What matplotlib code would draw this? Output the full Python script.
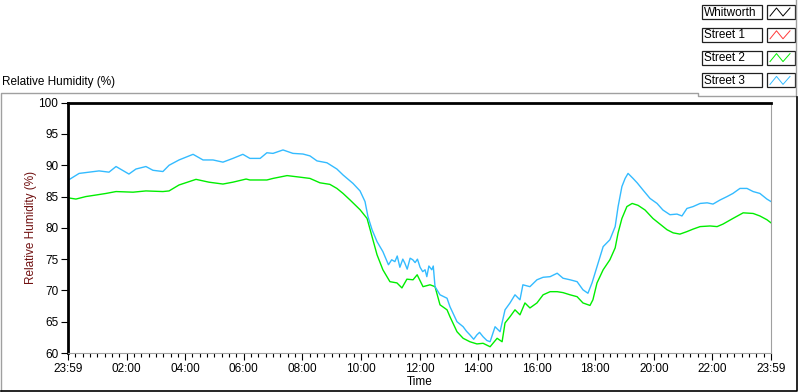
import matplotlib
matplotlib.use("Agg")
import matplotlib.pyplot as plt
from matplotlib.ticker import MultipleLocator, FixedLocator

plt.rcParams["font.family"] = ["Liberation Sans", "DejaVu Sans"]

# legend entries (Whitworth and Street 1 carry no data in the picture)
names = ["Whitworth", "Street 1", "Street 2", "Street 3"]
colors = ["#000000", "#ff3a3a", "#00ee00", "#33bbff"]

# hours since 23:59
t2 = [0.00, 0.27, 0.61, 0.96, 1.30, 1.64, 2.22, 2.66, 3.24, 3.45, 3.79, 4.37, 4.81,
      5.29, 5.63, 6.08, 6.21, 6.79, 7.00, 7.48, 7.92, 8.26, 8.60, 8.94, 9.18, 9.39,
      9.63, 9.97, 10.21, 10.38, 10.55, 10.75, 10.99, 11.23, 11.40, 11.57, 11.78,
      11.92, 12.12, 12.36, 12.53, 12.70, 12.94, 13.04, 13.28, 13.49, 13.72, 13.96,
      14.17, 14.41, 14.65, 14.82, 14.92, 15.09, 15.26, 15.43, 15.60, 15.77, 16.01,
      16.22, 16.46, 16.70, 16.90, 17.14, 17.38, 17.58, 17.82, 17.92, 18.06, 18.27,
      18.50, 18.68, 18.78, 18.91, 19.08, 19.26, 19.46, 19.70, 19.97, 20.21, 20.45,
      20.66, 20.89, 21.13, 21.34, 21.58, 21.92, 22.16, 22.36, 22.70, 23.05, 23.39,
      23.62, 23.86, 24.00]
street2 = [84.8, 84.6, 85.0, 85.25, 85.5, 85.8, 85.7, 85.9, 85.8, 85.9, 86.85, 87.75, 87.3,
           87.0, 87.3, 87.8, 87.65, 87.65, 87.9, 88.35, 88.1, 87.9, 87.2, 86.95, 86.3, 85.5,
           84.45, 82.9, 81.5, 78.6, 75.7, 73.3, 71.4, 71.2, 70.4, 71.8, 71.7,
           72.5, 70.6, 70.9, 70.6, 67.7, 66.9, 65.8, 63.4, 62.35, 61.8, 61.45,
           61.55, 61.0, 62.35, 61.8, 64.8, 65.8, 66.9, 66.1, 68.0, 67.2, 68.0,
           69.3, 69.8, 69.8, 69.65, 69.3, 69.0, 68.0, 67.6, 68.5, 71.2, 73.3,
           74.9, 76.8, 79.2, 81.5, 83.4, 83.9, 83.6, 82.85, 81.5, 80.6, 79.7,
           79.2, 79.0, 79.4, 79.8, 80.2, 80.3, 80.2, 80.6, 81.5, 82.4, 82.3,
           81.9, 81.3, 80.8]

t3 = [0.00, 0.38, 0.72, 1.06, 1.40, 1.64, 2.08, 2.32, 2.66, 2.90, 3.24, 3.45, 3.79, 4.27,
      4.61, 4.95, 5.29, 5.63, 5.97, 6.21, 6.56, 6.79, 7.00, 7.34, 7.68, 8.02, 8.26,
      8.50, 8.84, 9.18, 9.39, 9.73, 9.97, 10.14, 10.24, 10.38, 10.55, 10.75, 10.94,
      11.05, 11.16, 11.24, 11.33, 11.43, 11.50, 11.58, 11.68, 11.77, 11.85, 11.93,
      12.02, 12.11, 12.19, 12.25, 12.32, 12.42, 12.47, 12.53, 12.70, 12.94, 13.04,
      13.28, 13.49, 13.60, 13.72, 13.85, 13.96, 14.05, 14.17, 14.30, 14.41, 14.58,
      14.75, 14.92, 15.09, 15.26, 15.43, 15.53, 15.77, 16.01, 16.22, 16.46, 16.70,
      16.90, 17.14, 17.38, 17.58, 17.75, 17.89, 18.06, 18.27, 18.50, 18.68, 18.78,
      18.91, 19.02, 19.12, 19.29, 19.43, 19.63, 19.87, 20.11, 20.31, 20.55, 20.79,
      20.96, 21.13, 21.34, 21.58, 21.82, 22.02, 22.26, 22.50, 22.70, 22.94, 23.18,
      23.39, 23.62, 23.86, 24.00]
street3 = [87.6, 88.7, 88.9, 89.1, 88.9, 89.8, 88.6, 89.4, 89.8, 89.2, 89.0, 90.0, 90.85, 91.75,
           90.85, 90.85, 90.5, 91.1, 91.75, 91.1, 91.1, 92.0, 91.9, 92.45, 91.9, 91.8, 91.5,
           90.7, 90.4, 89.4, 88.45, 87.1, 85.9, 84.2, 81.8, 79.7, 77.8, 76.2, 74.1,
           74.9, 74.6, 75.5, 73.7, 75.0, 74.35, 73.4, 75.15, 74.9, 74.45, 75.0,
           73.7, 73.0, 73.3, 72.2, 73.9, 73.3, 73.9, 70.6, 69.3, 68.75, 67.4,
           65.0, 64.2, 63.5, 62.9, 62.2, 62.9, 63.3, 62.6, 62.0, 61.8, 64.2,
           63.4, 66.9, 68.0, 69.3, 68.5, 70.9, 70.6, 71.7, 72.1, 72.2, 72.75,
           71.95, 71.7, 71.4, 70.1, 69.55, 71.2, 73.8, 77.0, 78.1, 80.2, 83.4,
           86.6, 87.9, 88.7, 87.9, 87.2, 86.05, 84.7, 83.9, 82.85, 82.1, 82.2,
           81.9, 83.1, 83.4, 83.9, 84.0, 83.8, 84.45, 85.0, 85.5, 86.3, 86.3,
           85.8, 85.5, 84.6, 84.2]

xtick_pos = list(range(0, 25, 2))
xtick_labels = ["23:59", "02:00", "04:00", "06:00", "08:00", "10:00", "12:00",
                "14:00", "16:00", "18:00", "20:00", "22:00", "23:59"]

W, H = 800, 392
fig = plt.figure(figsize=(8, 3.92), dpi=100)

# panel decorations in pixel coords
deco = fig.add_axes([0, 0, 1, 1])
deco.set_xlim(0, W)
deco.set_ylim(H, 0)
deco.axis("off")
deco.plot([1, 1, 698, 698, 796, 796], [391, 93, 93, 96, 96, 0], color="#a0a0a0", lw=1.0)
deco.plot([1, 797, 797], [391, 391, 97], color="#000000", lw=1.2)
deco.text(2, 82, "Relative Humidity (%)", fontsize=8.5, va="center", ha="left")

# legend boxes
for i, (nm, c) in enumerate(zip(names, colors)):
    top = 5 + i * 22.8
    deco.add_patch(plt.Rectangle((702, top), 60, 14, fill=False, ec="#202020", lw=0.9))
    deco.text(704, top + 7.5, nm, fontsize=8.5, va="center", ha="left")
    deco.add_patch(plt.Rectangle((767, top), 28, 14, fill=False, ec="#202020", lw=0.9))
    deco.plot([770, 776.5, 783, 790], [top + 11, top + 3, top + 11, top + 3], color=c, lw=0.7)

# main chart
ax = fig.add_axes([68 / W, 1 - 353 / H, (771 - 68) / W, (353 - 102.7) / H])
series_t = [[], [], t2, t3]
series_v = [[], [], street2, street3]
for tt, vv, c in zip(series_t, series_v, colors):
    ax.plot(tt, vv, color=c, lw=1.0)

ax.set_xlim(0, 24)
ax.set_ylim(60, 100)
ax.xaxis.set_major_locator(FixedLocator(xtick_pos))
ax.set_xticklabels(xtick_labels)
ax.xaxis.set_minor_locator(MultipleLocator(0.25))
ax.yaxis.set_major_locator(MultipleLocator(5))
ax.tick_params(axis="both", which="major", length=5, width=0.8, labelsize=8.5, pad=2)
ax.tick_params(axis="x", which="minor", length=3, width=0.8)
ax.spines["top"].set_linewidth(2)
ax.spines["left"].set_linewidth(2)
ax.spines["right"].set_color("#a0a0a0")
ax.spines["bottom"].set_color("#a0a0a0")
ax.set_xlabel("Time", fontsize=8.5, labelpad=1)
ax.set_ylabel("Relative Humidity (%)", fontsize=8.5, color="#701010", labelpad=1)

fig.savefig("out.png", dpi=100)
